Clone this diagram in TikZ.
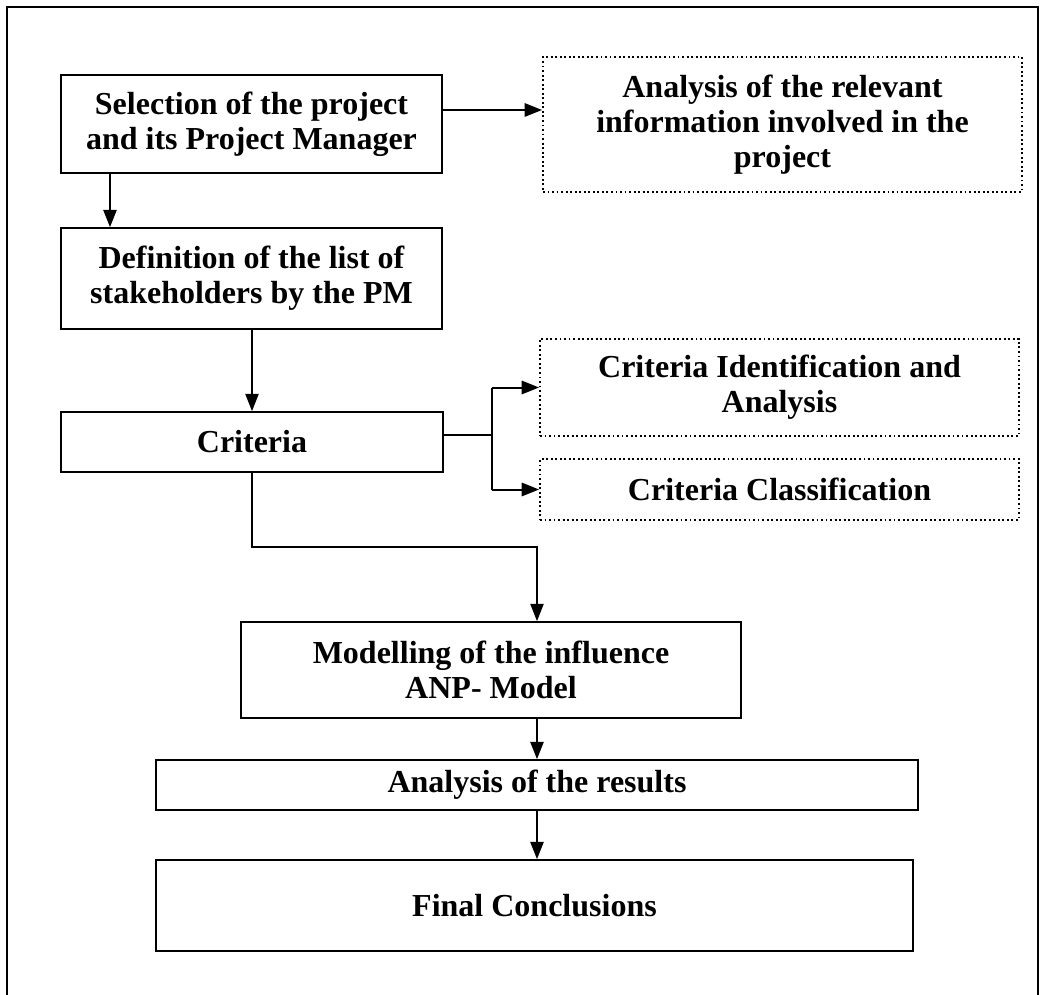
\documentclass[tikz,border=0pt]{standalone}
\usepackage{fontspec}
\setmainfont{Liberation Serif}
\usetikzlibrary{arrows.meta}
\begin{document}
\begin{tikzpicture}[x=0.75pt,y=-0.75pt,
  every node/.style={font=\bfseries\fontsize{24}{26}\selectfont, align=center, inner sep=0pt},
  solidbox/.style={draw, line width=1.3pt},
  dotbox/.style={draw, line width=1.4pt, dotted},
  conn/.style={line width=1pt},
  arr/.style={conn, -{Triangle[length=13pt,width=10pt]}},
  thick conn/.style={line width=2.2pt}
]
\useasboundingbox (0,0) rectangle (1040,995);
\clip (0,0) rectangle (1040,995);
\draw[line width=1.6pt] (7,1010) -- (7,7) -- (1038,7) -- (1038,1010);

\node[solidbox, minimum width=285.75pt, minimum height=73.5pt] (b1) at (251.5,124) {Selection of the project\\and its Project Manager};
\node[dotbox, minimum width=359.25pt, minimum height=101.25pt] (A) at (782.5,124.5) {Analysis of the relevant\\information involved in the\\project};
\node[solidbox, minimum width=285.75pt, minimum height=75.75pt] (b2) at (251.5,278.5) {Definition of the list of\\stakeholders by the PM};
\node[solidbox, minimum width=286.5pt, minimum height=45pt] (b3) at (252,442) {Criteria};
\node[dotbox, minimum width=359.25pt, minimum height=72.75pt] (B) at (779.5,387.5) {Criteria Identification and\\Analysis};
\node[dotbox, minimum width=359.25pt, minimum height=45.75pt] (C) at (779.5,489.5) {Criteria Classification};
\node[solidbox, minimum width=375pt, minimum height=72pt] (b4) at (491,670) {Modelling of the influence\\ANP- Model};
\node[solidbox, minimum width=571.5pt, minimum height=37.5pt] (b5) at (537,785) {Analysis of the results};
\node[solidbox, minimum width=567.75pt, minimum height=68.25pt] (b6) at (534.5,905.5) {Final Conclusions};

\coordinate (br) at (492,435);
\coordinate (bend1) at (252,547);
\coordinate (bend2) at (537,547);

\draw[arr, line width=1.3pt] (b1.east |- 0,110) -- (A.west |- 0,110);
\draw[arr, line width=1.3pt] (b1.south -| 110,0) -- (b2.north -| 110,0);
\draw[arr] (b2.south -| 252,0) -- (b3.north -| 252,0);
\draw[thick conn] (b3.east |- br) -- (br);
\draw[conn, line width=1.5pt] (br |- B.west) -- (br |- C.west);
\draw[arr, line width=1.5pt] (br |- B.west) -- (B.west);
\draw[arr, line width=1.5pt] (br |- C.west) -- (C.west);
\draw[arr] (b3.south -| bend1) -- (bend1) -- (bend2) -- (b4.north -| bend2);
\draw[arr, line width=1.3pt] (b4.south -| 537,0) -- (b5.north -| 537,0);
\draw[arr, line width=1.3pt] (b5.south -| 537,0) -- (b6.north -| 537,0);
\end{tikzpicture}
\end{document}
